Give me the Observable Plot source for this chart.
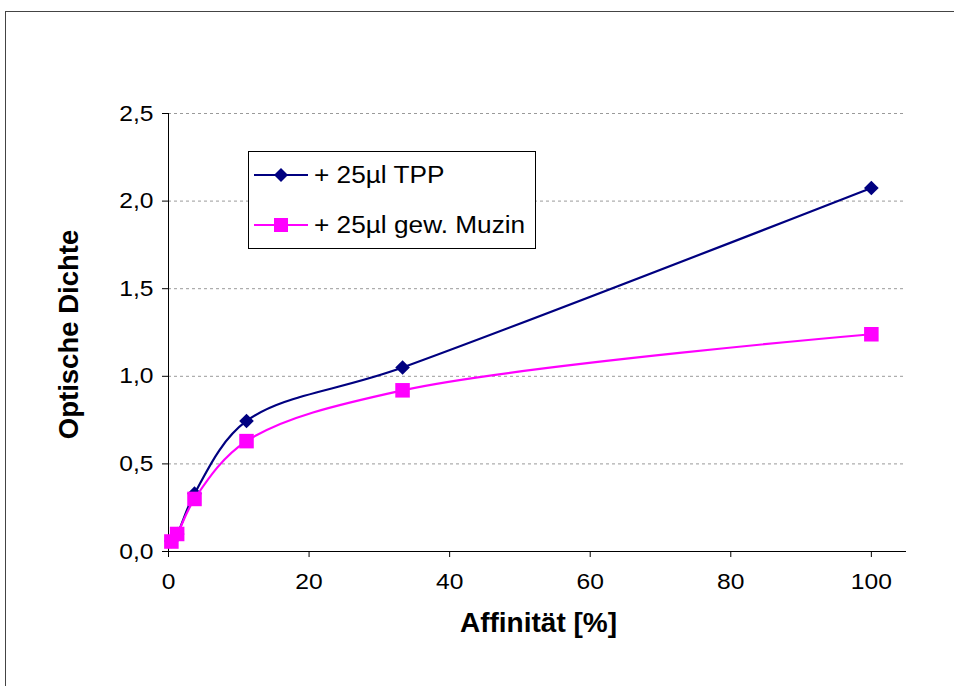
<!DOCTYPE html>
<html><head><meta charset="utf-8">
<script src="https://cdn.jsdelivr.net/npm/d3@7"></script>
<script src="https://cdn.jsdelivr.net/npm/@observablehq/plot@0.6"></script>
<style>
body{margin:0;background:#fff;overflow:hidden;font-family:Arial,"Liberation Sans",sans-serif}
#wrap{position:relative;width:954px;height:686px;overflow:hidden;background:#fff}
#border{position:absolute;left:5px;top:11px;width:1200px;height:1200px;border:1px solid #444;box-sizing:border-box}
#chart{position:absolute;left:0;top:0}
#legend{position:absolute;left:248px;top:151px;width:288px;height:98px;border:1px solid #000;background:#fff;box-sizing:border-box}
#legend div{position:absolute;left:0;height:30px;display:flex;align-items:center;font-size:23px;white-space:nowrap}
#legend svg{margin-left:5px;margin-right:6px}
#legend span{display:inline-block;transform:scaleX(1.14);transform-origin:left center}
</style></head>
<body><div id="wrap"><div id="border"></div><div id="chart"></div><div id="legend"></div></div>
<script>
const affinity = [0.41, 1.23, 3.7, 11.1, 33.3, 100];
const tpp = [0.06, 0.10, 0.33, 0.745, 1.05, 2.075];
const muzin = [0.057, 0.10, 0.30, 0.63, 0.92, 1.24];
const seriesNames = ["+ 25µl TPP", "+ 25µl gew. Muzin"];
const seriesColors = ["#000080", "#FF00FF"];
const seriesSymbols = ["diamond2", "square"];
const yTicks = [0, 0.5, 1, 1.5, 2, 2.5];
const xTicks = [0, 20, 40, 60, 80, 100];
const xTitle = "Affinität [%]";
const yTitle = "Optische Dichte";

const seriesValues = [tpp, muzin];
const rows = seriesValues.map((vals, s) => affinity.map((a, i) => ({x: a, y: vals[i], s: seriesNames[s]})));
const font = 'Arial, "Liberation Sans", sans-serif';

const marks = [
  Plot.gridY(yTicks.filter(d => d > 0), {stroke: "#9a9a9a", strokeOpacity: 1, strokeDasharray: "3,3"}),
  Plot.axisY({ticks: yTicks, tickFormat: d => d.toFixed(1).replace(".", ","), tickSize: 6, tickPadding: 9, fontSize: 22, label: null}),
  Plot.axisX({ticks: xTicks, tickSize: 6, tickPadding: 16, fontSize: 22, label: null}),
  Plot.ruleY([0], {stroke: "#000", insetLeft: -6}),
  Plot.ruleX([0], {stroke: "#000", insetBottom: -6}),
  Plot.text([yTitle], {text: d => d, frameAnchor: "left", dx: -99, dy: 2, rotate: -90, textAnchor: "middle", fontSize: 27.5, fontWeight: "bold"}),
  Plot.text([xTitle], {text: d => d, frameAnchor: "bottom", dy: 80, dx: 1, textAnchor: "middle", fontSize: 28, fontWeight: "bold"})
];
rows.forEach((r, s) => {
  marks.push(Plot.line(r, {x: "x", y: "y", stroke: "s", strokeWidth: 2.2, curve: "catmull-rom"}));
  marks.push(Plot.dot(r, {x: "x", y: "y", fill: "s", symbol: "s", stroke: "none", r: s === 0 ? 6.6 : 8.2}));
});

const chart = Plot.plot({
  width: 954, height: 686,
  marginLeft: 168, marginRight: 48, marginTop: 113, marginBottom: 135,
  style: {fontFamily: font, fontSize: "22px", color: "#000", background: "none", overflow: "visible"},
  x: {domain: [0, 105]},
  y: {domain: [0, 2.5]},
  color: {domain: seriesNames, range: seriesColors},
  symbol: {domain: seriesNames, range: seriesSymbols},
  marks
});
document.getElementById("chart").appendChild(chart);

// widen tick labels slightly (the reference font is horizontally stretched)
chart.querySelectorAll('g[aria-label$="tick label"] text').forEach(t => {
  const tr = t.getAttribute("transform");
  if (tr) t.setAttribute("transform", tr + " scale(1.12,1)");
  else {
    const x = +t.getAttribute("x") || 0, y = +t.getAttribute("y") || 0;
    t.setAttribute("transform", `translate(${x},${y}) scale(1.12,1) translate(${-x},${-y})`);
  }
});

// legend
const legend = document.getElementById("legend");
seriesNames.forEach((name, i) => {
  const row = document.createElement("div");
  row.style.top = (i === 0 ? 8 : 58) + "px";
  const sym = seriesSymbols[i] === "square"
    ? `<rect x="20" y="8" width="14" height="14" fill="${seriesColors[i]}"/>`
    : `<path d="M27,8L34,15L27,22L20,15Z" fill="${seriesColors[i]}"/>`;
  row.innerHTML = `<svg width="54" height="30"><line x1="0" x2="54" y1="15" y2="15" stroke="${seriesColors[i]}" stroke-width="2.2"/>${sym}</svg><span>${name}</span>`;
  legend.appendChild(row);
});
</script>
</body></html>
